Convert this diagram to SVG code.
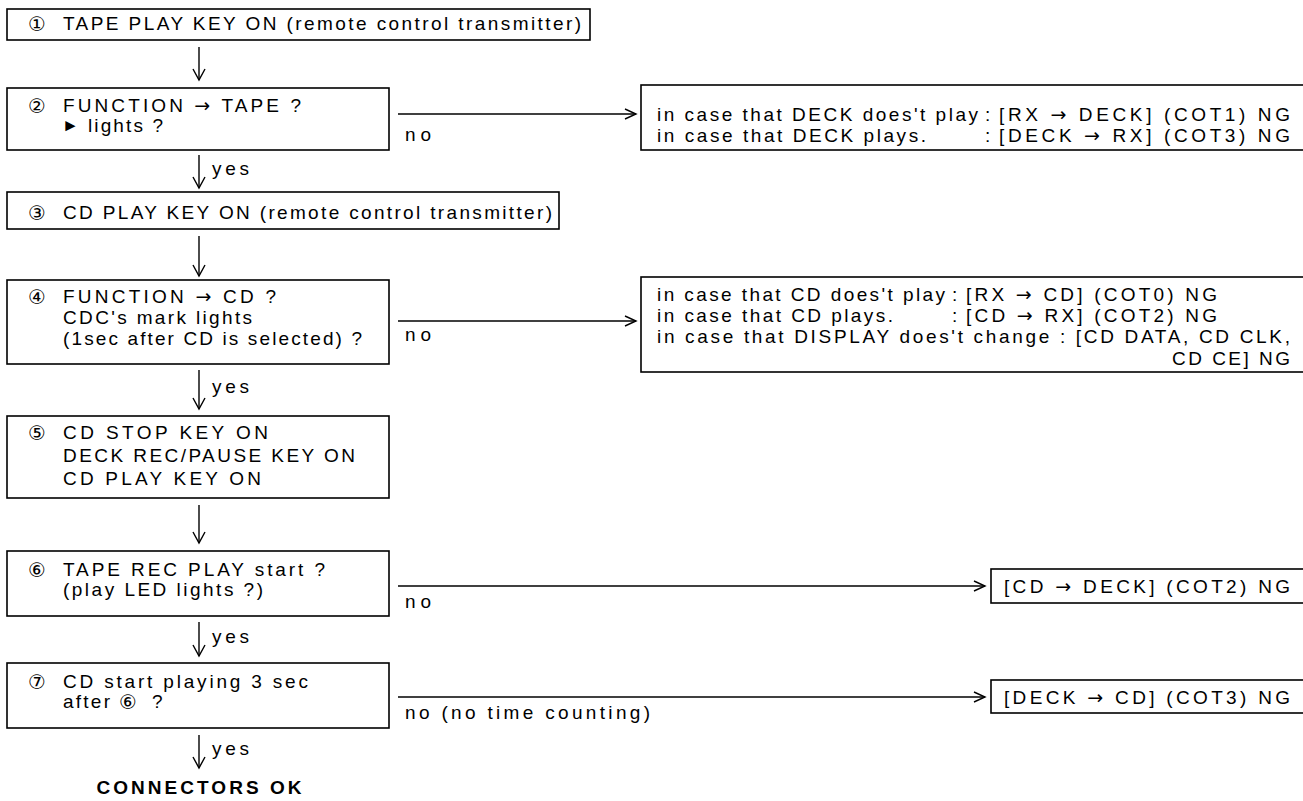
<svg xmlns="http://www.w3.org/2000/svg" width="1303" height="801" viewBox="0 0 1303 801">
<defs>
<marker id="ad" markerUnits="userSpaceOnUse" markerWidth="14" markerHeight="14" refX="11" refY="6" orient="auto" overflow="visible">
<path d="M0,0 L11,6 L0,12" fill="none" stroke="#000" stroke-width="1.4"/>
</marker>
<marker id="ar" markerUnits="userSpaceOnUse" markerWidth="14" markerHeight="14" refX="11" refY="5" orient="auto" overflow="visible">
<path d="M0,0 L11,5 L0,10" fill="none" stroke="#000" stroke-width="1.4"/>
</marker>
</defs>
<style>
text{font-family:"Liberation Sans","DejaVu Sans",Arial,sans-serif;font-size:19px;fill:#000}
.n{font-family:"DejaVu Sans","Liberation Sans",sans-serif;font-size:20px}
.a{font-family:"DejaVu Sans","Liberation Sans",sans-serif}
.tri{font-size:17px}
.b{fill:#fff;stroke:#000;stroke-width:1.6}
.c{stroke:#000;stroke-width:1.4;fill:none}
.bold{font-weight:bold}
</style>
<rect width="1303" height="801" fill="#fff"/>
<g id="connectors">
<line class="c" x1="199" y1="47" x2="199" y2="80" marker-end="url(#ad)"/>
<line class="c" x1="199" y1="155" x2="199" y2="188" marker-end="url(#ad)"/>
<line class="c" x1="199" y1="236" x2="199" y2="276" marker-end="url(#ad)"/>
<line class="c" x1="199" y1="370" x2="199" y2="409" marker-end="url(#ad)"/>
<line class="c" x1="199" y1="505" x2="199" y2="543" marker-end="url(#ad)"/>
<line class="c" x1="199" y1="622" x2="199" y2="656" marker-end="url(#ad)"/>
<line class="c" x1="199" y1="735" x2="199" y2="768" marker-end="url(#ad)"/>
<line class="c" x1="398" y1="114" x2="636" y2="114" marker-end="url(#ar)"/>
<line class="c" x1="398" y1="321" x2="636" y2="321" marker-end="url(#ar)"/>
<line class="c" x1="398" y1="586" x2="985" y2="586" marker-end="url(#ar)"/>
<line class="c" x1="398" y1="697" x2="985" y2="697" marker-end="url(#ar)"/>
<text x="405" y="141" textLength="26">no</text>
<text x="212" y="175" textLength="37">yes</text>
<text x="405" y="341" textLength="26">no</text>
<text x="212" y="393" textLength="37">yes</text>
<text x="405" y="608" textLength="26">no</text>
<text x="212" y="643" textLength="37">yes</text>
<text x="405" y="719" textLength="245">no (no time counting)</text>
<text x="212" y="755" textLength="37">yes</text>
</g>
<g id="n1">
<rect class="b" x="7" y="9" width="583" height="31"/>
<text class="n" x="28" y="31">①</text>
<text x="63" y="30" textLength="518">TAPE PLAY KEY ON (remote control transmitter)</text>
</g>
<g id="n2">
<rect class="b" x="7" y="88" width="382" height="62"/>
<text class="n" x="28" y="113">②</text>
<text x="63" y="112" textLength="238">FUNCTION <tspan class="a">→</tspan> TAPE ?</text>
<text class="tri" x="62" y="131">►</text>
<text x="88" y="132" textLength="75">lights ?</text>
</g>
<g id="nA">
<rect class="b" x="641" y="85" width="700" height="65"/>
<text x="657" y="121" textLength="321">in case that DECK does't play</text>
<text x="985" y="121">:</text>
<text x="999" y="121" textLength="291">[RX <tspan class="a">→</tspan> DECK] (COT1) NG</text>
<text x="657" y="142" textLength="269">in case that DECK plays.</text>
<text x="985" y="142">:</text>
<text x="999" y="142" textLength="291">[DECK <tspan class="a">→</tspan> RX] (COT3) NG</text>
</g>
<g id="n3">
<rect class="b" x="7" y="192" width="552" height="37"/>
<text class="n" x="28" y="220">③</text>
<text x="63" y="219" textLength="489">CD PLAY KEY ON (remote control transmitter)</text>
</g>
<g id="n4">
<rect class="b" x="7" y="280" width="382" height="84"/>
<text class="n" x="28" y="304">④</text>
<text x="63" y="303" textLength="213">FUNCTION <tspan class="a">→</tspan> CD ?</text>
<text x="63" y="324" textLength="189">CDC's mark lights</text>
<text x="63" y="345" textLength="299">(1sec after CD is selected) ?</text>
</g>
<g id="nB">
<rect class="b" x="641" y="277" width="700" height="95"/>
<text x="657" y="301" textLength="288">in case that CD does't play</text>
<text x="952" y="301">:</text>
<text x="966" y="301" textLength="251">[RX <tspan class="a">→</tspan> CD] (COT0) NG</text>
<text x="657" y="322" textLength="236">in case that CD plays.</text>
<text x="952" y="322">:</text>
<text x="966" y="322" textLength="251">[CD <tspan class="a">→</tspan> RX] (COT2) NG</text>
<text x="657" y="343" textLength="633">in case that DISPLAY does't change : [CD DATA, CD CLK,</text>
<text x="1172" y="365" textLength="118">CD CE] NG</text>
</g>
<g id="n5">
<rect class="b" x="7" y="416" width="382" height="82"/>
<text class="n" x="28" y="440">⑤</text>
<text x="63" y="439" textLength="205">CD STOP KEY ON</text>
<text x="63" y="462" textLength="292">DECK REC/PAUSE KEY ON</text>
<text x="63" y="485" textLength="198">CD PLAY KEY ON</text>
</g>
<g id="n6">
<rect class="b" x="7" y="551" width="382" height="65"/>
<text class="n" x="28" y="577">⑥</text>
<text x="63" y="576" textLength="262">TAPE REC PLAY start ?</text>
<text x="63" y="596" textLength="200">(play LED lights ?)</text>
</g>
<g id="nC">
<rect class="b" x="991" y="569" width="330" height="34"/>
<text x="1004" y="593" textLength="286">[CD <tspan class="a">→</tspan> DECK] (COT2) NG</text>
</g>
<g id="n7">
<rect class="b" x="7" y="663" width="382" height="65"/>
<text class="n" x="28" y="689">⑦</text>
<text x="63" y="688" textLength="245">CD start playing 3 sec</text>
<text x="63" y="708" textLength="47">after</text>
<text class="n" x="119" y="709">⑥</text>
<text x="152" y="708">?</text>
</g>
<g id="nD">
<rect class="b" x="991" y="680" width="330" height="33"/>
<text x="1004" y="704" textLength="286">[DECK <tspan class="a">→</tspan> CD] (COT3) NG</text>
</g>
<g id="end">
<text class="bold" x="199" y="794" text-anchor="middle" textLength="205">CONNECTORS OK</text>
</g>
</svg>
